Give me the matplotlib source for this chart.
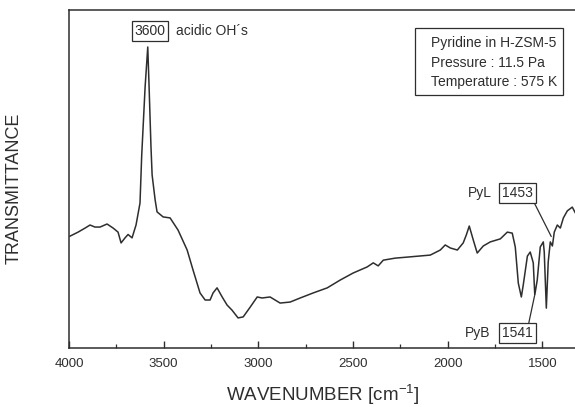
"""Espectro IR da piridina adsorvida em H-ZSM-5 (reproducao do grafico)."""

import matplotlib

matplotlib.use("Agg")
import matplotlib.pyplot as plt
from matplotlib.patches import Rectangle
from matplotlib.ticker import MultipleLocator

plt.rcParams["font.family"] = ["Liberation Sans", "DejaVu Sans"]
plt.rcParams["mathtext.fontset"] = "custom"
plt.rcParams["mathtext.rm"] = "Liberation Sans"
plt.rcParams["mathtext.it"] = "Liberation Sans:italic"

# numero de onda [cm-1] e transmitancia (unidades arbitrarias)
numero_onda = [
    3995, 3952, 3915, 3889, 3863, 3836, 3799, 3767, 3741, 3725, 3704, 3688,
    3667, 3646, 3625, 3616, 3598, 3584, 3577, 3567, 3561, 3545, 3535, 3503,
    3466, 3424, 3376, 3345, 3308, 3281, 3255, 3239, 3218, 3191, 3165, 3139,
    3107, 3080, 3043, 3006, 2980, 2938, 2885, 2832, 2779, 2710, 2636, 2568,
    2499, 2425, 2393, 2367, 2340, 2277, 2214, 2092, 2039, 2013, 1986, 1949,
    1918, 1902, 1886, 1865, 1844, 1812, 1775, 1722, 1685, 1659, 1643, 1627,
    1611, 1601, 1579, 1564, 1548, 1540, 1527, 1511, 1495, 1490, 1479, 1469,
    1458, 1447, 1437, 1421, 1405, 1389, 1368, 1342, 1326, 1305,
]
transmitancia = [
    33.1, 34.3, 35.5, 36.4, 35.8, 35.8, 36.7, 35.5, 34.3, 31.1, 32.6, 33.6,
    32.6, 36.4, 42.9, 57.0, 77.3, 89.1, 77.3, 59.5, 51.2, 43.8, 40.3, 38.8,
    38.5, 34.9, 29.0, 23.1, 16.3, 14.2, 14.2, 16.3, 17.8, 15.1, 12.7, 11.2,
    8.9, 9.2, 12.1, 15.1, 14.8, 15.1, 13.3, 13.6, 14.8, 16.3, 17.8, 20.1,
    22.2, 24.0, 25.2, 24.3, 26.0, 26.6, 26.9, 27.5, 29.0, 30.5, 29.6, 29.0,
    31.1, 33.4, 36.1, 32.0, 28.1, 30.2, 31.4, 32.3, 34.3, 34.0, 29.9, 19.2,
    15.1, 18.6, 27.2, 28.4, 25.2, 15.7, 20.1, 29.9, 31.4, 28.4, 11.8, 25.5,
    31.4, 30.2, 34.3, 36.4, 35.5, 38.5, 40.6, 41.7, 40.0, 38.5,
]

# bandas marcadas no grafico
BANDA_OH = 3600
BANDA_PYL = 1453
BANDA_PYB = 1541
INFO = ["Pyridine in H-ZSM-5", "Pressure : 11.5 Pa", "Temperature : 575 K"]

COR = "#2e2e2e"

fig = plt.figure(figsize=(5.75, 4.07), dpi=100)
ax = fig.add_axes([0.12, 0.145, 0.922, 0.83])

ax.plot(numero_onda, transmitancia, color=COR, lw=1.1)
ax.set_xlim(4000, 1200)
ax.set_ylim(0, 100)

for lado in ax.spines.values():
    lado.set_color(COR)
    lado.set_linewidth(1.1)

ax.xaxis.set_major_locator(MultipleLocator(500))
ax.xaxis.set_minor_locator(MultipleLocator(250))
ax.tick_params(axis="x", which="both", direction="in", top=False, colors=COR,
               labelsize=9.5, pad=7)
ax.tick_params(axis="x", which="major", length=5, width=1.0)
ax.tick_params(axis="x", which="minor", length=3, width=0.9)
ax.set_yticks([])

ax.set_xlabel("WAVENUMBER [cm$^{-1}$]", fontsize=13.5, color=COR)
ax.xaxis.set_label_coords(0.479, -0.104)
ax.set_ylabel("TRANSMITTANCE", fontsize=13, color=COR)
ax.yaxis.set_label_coords(-0.087, 0.473)

caixa = dict(boxstyle="square,pad=0.2", fc="white", ec=COR, lw=0.9)

# banda OH acida
ax.text(3572, 93.8, str(BANDA_OH), fontsize=10, ha="center", va="center",
        bbox=caixa, color=COR)
ax.text(3435, 93.8, "acidic OH\u00b4s", fontsize=10, ha="left", va="center",
        color=COR)

# caixa de condicoes
ax.add_patch(Rectangle((0.653, 0.749), 0.279, 0.198, transform=ax.transAxes,
                       fill=False, ec=COR, lw=0.9))
for i, linha in enumerate(INFO):
    ax.text(0.683, 0.902 - i * 0.058, linha, transform=ax.transAxes,
            fontsize=10, ha="left", va="center", color=COR)

# piridina em sitio de Lewis
ax.text(1828, 45.9, "PyL", fontsize=10, ha="center", va="center", color=COR)
ax.annotate(str(BANDA_PYL), xy=(BANDA_PYL, 33.0), xytext=(1632, 45.9),
            fontsize=10, ha="center", va="center", color=COR, bbox=caixa,
            arrowprops=dict(arrowstyle="-", color=COR, lw=0.9, shrinkA=0,
                            shrinkB=0, relpos=(1.0, 0.0)))

# piridina em sitio de Bronsted
ax.text(1844, 4.4, "PyB", fontsize=10, ha="center", va="center", color=COR)
ax.annotate(str(BANDA_PYB), xy=(BANDA_PYB, 15.5), xytext=(1632, 4.4),
            fontsize=10, ha="center", va="center", color=COR, bbox=caixa,
            arrowprops=dict(arrowstyle="-", color=COR, lw=0.9, shrinkA=0,
                            shrinkB=0, relpos=(0.85, 1.0)))

fig.savefig("out.png", dpi=100)
